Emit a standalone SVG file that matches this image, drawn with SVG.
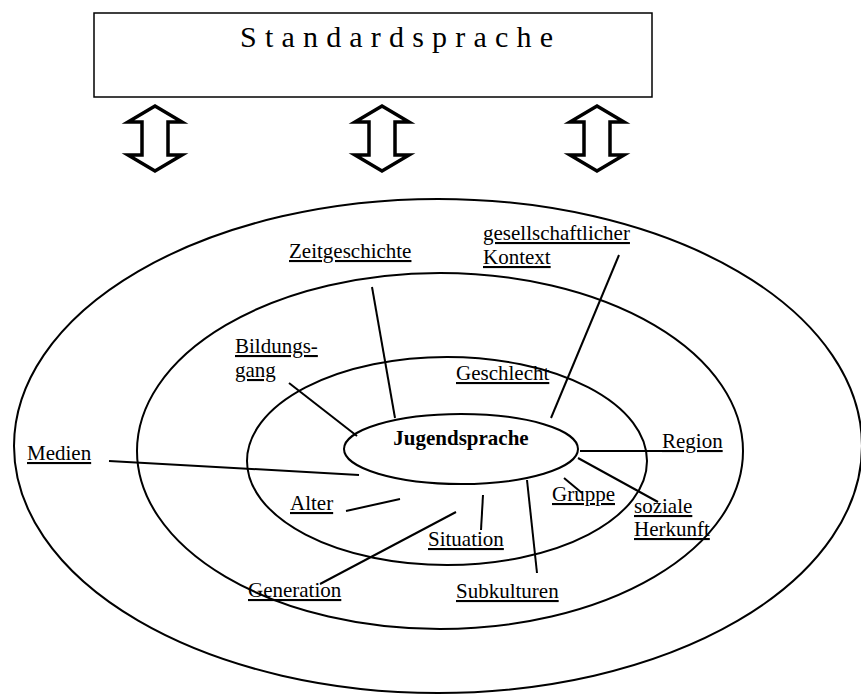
<svg xmlns="http://www.w3.org/2000/svg" width="861" height="697" viewBox="0 0 861 697">
<style>
.ring{fill:none;stroke:#000;stroke-width:2}
.ln{stroke:#000;stroke-width:2;fill:none}
.lbl{font-family:"Liberation Serif","Times New Roman",serif;font-size:21px;fill:#000;text-decoration:underline}
.arr{fill:#fff;stroke:#000;stroke-width:3.5;stroke-linejoin:miter}
</style>
<defs>
<path id="dblarrow" class="arr" d="M0,106 L27,122 L13,122 L13,155 L27,155 L0,171 L-27,155 L-13,155 L-13,122 L-27,122 Z"/>
</defs>
<rect width="861" height="697" fill="#fff"/>
<g id="standardsprache">
<rect x="94" y="13" width="558" height="84" fill="#fff" stroke="#000" stroke-width="1.5"/>
<text x="240" y="47" font-family="Liberation Serif, Times New Roman, serif" font-size="30" letter-spacing="8.2">Standardsprache</text>
</g>
<g id="arrows">
<use href="#dblarrow" x="155"/>
<use href="#dblarrow" x="382"/>
<use href="#dblarrow" x="597"/>
</g>
<g id="rings">
<ellipse class="ring" cx="438" cy="446" rx="424" ry="247"/>
<ellipse class="ring" cx="440" cy="451" rx="303" ry="178"/>
<ellipse class="ring" cx="447" cy="461" rx="200" ry="104"/>
</g>
<g id="connectors">
<line class="ln" x1="372" y1="287" x2="395" y2="418"/>
<line class="ln" x1="619" y1="255" x2="551" y2="418"/>
<line class="ln" x1="289" y1="383" x2="357" y2="436"/>
<line class="ln" x1="109" y1="461" x2="359" y2="475"/>
<line class="ln" x1="346" y1="511" x2="400" y2="499"/>
<line class="ln" x1="320" y1="584" x2="456" y2="512"/>
<line class="ln" x1="483" y1="495" x2="481" y2="530"/>
<line class="ln" x1="527" y1="480" x2="537" y2="573"/>
<line class="ln" x1="564" y1="478" x2="582" y2="493"/>
<line class="ln" x1="580" y1="451" x2="662" y2="451"/>
<line class="ln" x1="578" y1="458" x2="658" y2="502"/>
</g>
<g id="jugendsprache">
<ellipse class="ring" cx="461" cy="449" rx="117" ry="35" fill="#fff"/>
<text x="461" y="445" text-anchor="middle" font-family="Liberation Serif, Times New Roman, serif" font-size="21" font-weight="bold">Jugendsprache</text>
</g>
<g id="zeitgeschichte"><text class="lbl" x="289" y="258">Zeitgeschichte</text></g>
<g id="gesellschaftlicher-kontext"><text class="lbl" x="483" y="240">gesellschaftlicher</text><text class="lbl" x="483" y="264">Kontext</text></g>
<g id="bildungsgang"><text class="lbl" x="235" y="353">Bildungs-</text><text class="lbl" x="235" y="377">gang</text></g>
<g id="geschlecht"><text class="lbl" x="456" y="380">Geschlecht</text></g>
<g id="medien"><text class="lbl" x="27" y="460">Medien</text></g>
<g id="region"><text class="lbl" x="662" y="448">Region</text></g>
<g id="alter"><text class="lbl" x="290" y="510">Alter</text></g>
<g id="gruppe"><text class="lbl" x="552" y="501">Gruppe</text></g>
<g id="soziale-herkunft"><text class="lbl" x="634" y="513">soziale</text><text class="lbl" x="634" y="536">Herkunft</text></g>
<g id="situation"><text class="lbl" x="428" y="546">Situation</text></g>
<g id="generation"><text class="lbl" x="248" y="597">Generation</text></g>
<g id="subkulturen"><text class="lbl" x="456" y="598">Subkulturen</text></g>
</svg>
